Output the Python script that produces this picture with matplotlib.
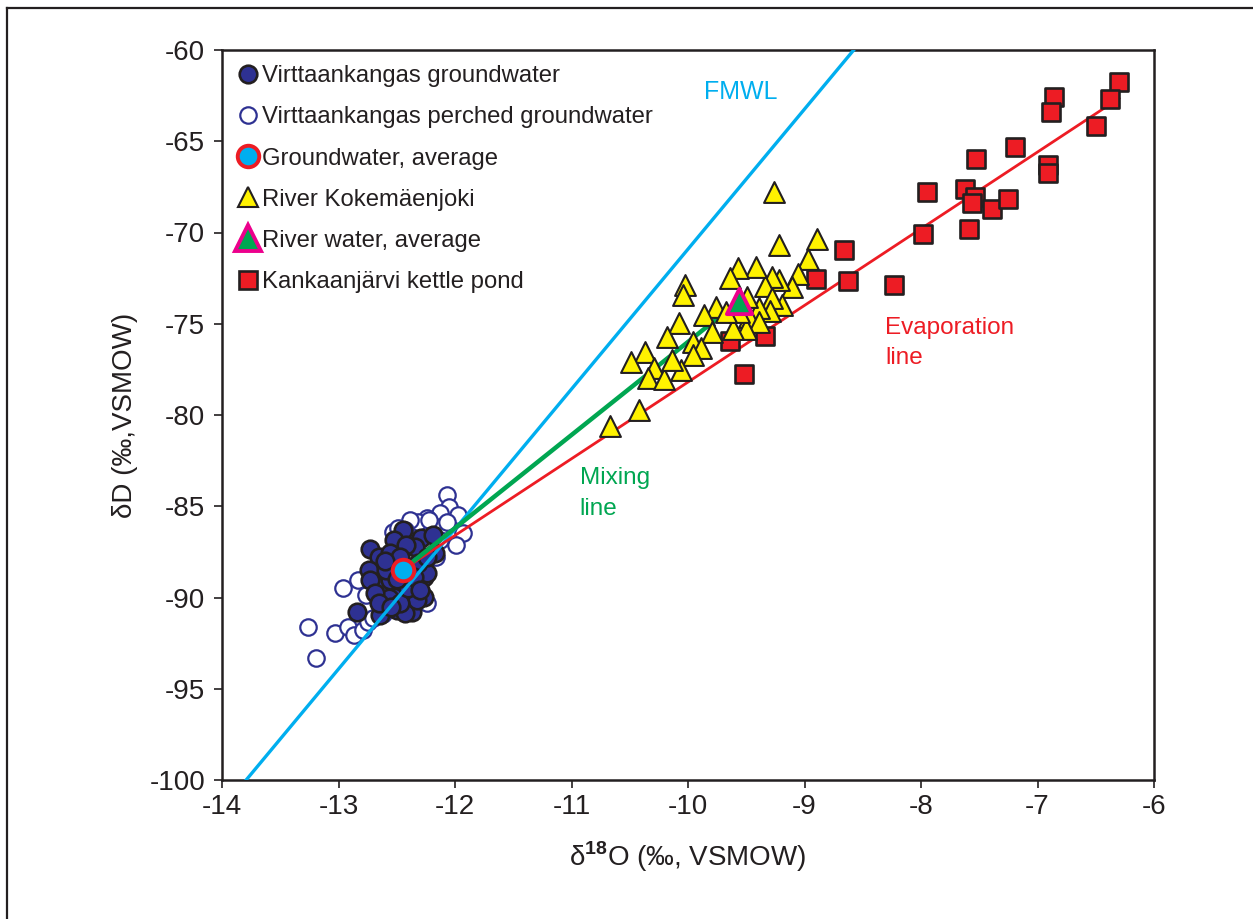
import matplotlib
matplotlib.use("Agg")
import matplotlib.pyplot as plt
import numpy as np
from matplotlib.lines import Line2D

plt.rcParams['font.family'] = ['Liberation Sans', 'DejaVu Sans']
plt.rcParams['mathtext.fontset'] = 'custom'
plt.rcParams['mathtext.rm'] = 'Liberation Sans'
plt.rcParams['mathtext.bf'] = 'Liberation Sans:bold'
plt.rcParams['axes.unicode_minus'] = False

# ---------------- data ----------------
gw_x = [-12.45, -12.73, -12.65, -12.52, -12.29, -12.19, -12.17, -12.74, -12.64, -12.56,
        -12.52, -12.37, -12.27, -12.24, -12.27, -12.57, -12.84, -12.64, -12.50, -12.37,
        -12.43, -12.34, -12.42, -12.56, -12.47, -12.73, -12.69, -12.59, -12.32, -12.24,
        -12.33, -12.47, -12.60, -12.40, -12.50, -12.35, -12.65, -12.30, -12.55]
gw_y = [-86.30, -87.34, -87.80, -86.85, -86.76, -86.58, -87.58, -88.49, -89.41, -89.04,
        -89.96, -89.32, -88.86, -88.67, -89.96, -90.04, -90.78, -90.96, -90.68, -90.78,
        -90.87, -87.22, -87.12, -87.58, -87.76, -89.04, -89.77, -88.49, -88.13, -87.76,
        -90.14, -90.32, -88.00, -89.50, -89.00, -88.90, -90.30, -89.60, -90.50]

perch_x = [-12.07, -12.05, -11.97, -12.13, -12.24, -12.32, -12.39, -11.93, -11.99, -12.96,
           -12.83, -12.76, -13.26, -13.03, -12.92, -12.87, -12.79, -12.75, -13.19, -12.53,
           -12.13, -12.07, -12.13, -12.16, -12.24, -12.22, -12.43, -12.49, -12.62, -12.70]
perch_y = [-84.41, -85.04, -85.48, -85.39, -85.66, -85.85, -85.75, -86.48, -87.12, -89.50,
           -89.04, -89.86, -91.60, -91.96, -91.60, -92.05, -91.78, -91.33, -93.33, -86.39,
           -86.12, -85.85, -86.85, -87.76, -90.32, -85.75, -86.30, -86.21, -90.90, -91.10]

gw_avg = (-12.45, -88.49)

river_x = [-9.26, -9.22, -8.89, -8.97, -9.06, -9.11, -9.19, -9.22, -9.28, -9.34,
           -9.42, -9.57, -9.64, -9.28, -9.30, -9.39, -9.48, -9.39, -9.50, -9.61,
           -9.76, -9.86, -9.79, -10.03, -10.04, -10.08, -10.18, -9.96, -9.89, -9.96,
           -10.37, -10.49, -10.29, -10.34, -10.21, -10.06, -10.14, -10.42, -10.67,
           -9.49, -9.56, -9.67]
river_y = [-67.76, -70.68, -70.37, -71.47, -72.27, -73.00, -73.97, -72.60, -72.42, -72.93,
           -71.87, -71.96, -72.51, -73.61, -74.30, -74.15, -74.61, -74.93, -75.29, -75.29,
           -74.07, -74.52, -75.45, -72.88, -73.42, -74.98, -75.71, -75.98, -76.35, -76.71,
           -76.53, -77.08, -77.44, -77.99, -78.04, -77.53, -76.99, -79.73, -80.60,
           -73.53, -74.36, -74.36]

river_avg = (-9.56, -73.75)

pond_x = [-6.30, -6.38, -6.86, -6.88, -6.50, -7.19, -7.53, -6.91, -6.91, -7.95,
          -7.62, -7.54, -7.56, -7.39, -7.25, -7.98, -7.59, -8.66, -8.63, -8.23,
          -8.90, -9.34, -9.64, -9.52]
pond_y = [-61.74, -62.68, -62.56, -63.40, -64.16, -65.32, -65.97, -66.30, -66.72, -67.76,
          -67.62, -68.05, -68.38, -68.71, -68.16, -70.08, -69.81, -70.96, -72.66, -72.88,
          -72.56, -75.65, -75.93, -77.75]

# FMWL: dD = 7.67 d18O + 5.79
fmwl_slope, fmwl_icpt = 7.67, 5.79
fmwl_x = [-13.8, -8.4]
evap_end = (-6.30, -62.65)

legend_labels = ['Virttaankangas groundwater', 'Virttaankangas perched groundwater',
                 'Groundwater, average', 'River Kokemäenjoki', 'River water, average',
                 'Kankaanjärvi kettle pond']

# ---------------- style ----------------
CYAN = '#00aeef'
RED = '#ed1c24'
GREEN = '#00a651'
YELLOW = '#fff200'
NAVY = '#2e3192'
MAG = '#ec008c'
BLK = '#231f20'

fig = plt.figure(figsize=(12.53, 9.19), dpi=100)
ax = fig.add_axes([222/1253, 1-780/919, (1154-222)/1253, (780-50)/919])

ax.set_xlim(-14, -6)
ax.set_ylim(-100, -60)

S_GW, S_PE, S_SQ, S_TR, S_GA, S_RA = 160, 140, 170, 225, 240, 330

ax.scatter(perch_x, perch_y, s=S_PE, facecolor='white', edgecolor=NAVY,
           linewidth=1.6, zorder=2)
ax.scatter(gw_x, gw_y, s=S_GW, facecolor=NAVY, edgecolor=BLK, linewidth=1.9, zorder=3)

fx = np.array(fmwl_x)
ax.plot(fx, fmwl_slope*fx + fmwl_icpt, color=CYAN, lw=2.4, zorder=4, solid_capstyle='butt')
ax.plot([gw_avg[0], evap_end[0]], [gw_avg[1], evap_end[1]], color=RED, lw=2.0, zorder=4)
ax.plot([gw_avg[0], river_avg[0]], [gw_avg[1], river_avg[1]], color=GREEN, lw=3.2, zorder=4)

ax.scatter(pond_x, pond_y, s=S_SQ, marker='s', facecolor=RED, edgecolor=BLK,
           linewidth=1.9, zorder=5)
ax.scatter(river_x, river_y, s=S_TR, marker='^', facecolor=YELLOW, edgecolor=BLK,
           linewidth=1.5, zorder=6)
ax.scatter([gw_avg[0]], [gw_avg[1]], s=S_GA, facecolor=CYAN, edgecolor=RED,
           linewidth=2.8, zorder=7)
ax.scatter([river_avg[0]], [river_avg[1]], s=S_RA, marker='^', facecolor=GREEN,
           edgecolor=MAG, linewidth=2.8, zorder=7)

ax.text(-9.55, -62.3, 'FMWL', color=CYAN, fontsize=18, ha='center', va='center')
ax.text(-8.31, -76.05, 'Evaporation\nline', color=RED, fontsize=17.5, ha='left',
        va='center', linespacing=1.5)
ax.text(-10.93, -84.3, 'Mixing\nline', color=GREEN, fontsize=17.5, ha='left',
        va='center', linespacing=1.5)

for sp in ax.spines.values():
    sp.set_linewidth(1.8)
    sp.set_color(BLK)
ax.set_xticks(np.arange(-14, -5, 1))
ax.set_yticks(np.arange(-100, -59, 5))
ax.tick_params(direction='out', length=6, width=1.2, color=BLK, labelsize=20,
               labelcolor=BLK)
ax.tick_params(axis='x', pad=4)
ax.tick_params(axis='y', pad=6)

ax.set_xlabel(r'δ$^{\mathbf{18}}$O (‰, VSMOW)', fontsize=20, color=BLK, labelpad=14)
ax.set_ylabel('δD (‰,VSMOW)', fontsize=20, color=BLK)
ax.yaxis.set_label_coords(-0.09, 0.5)

def proxy(marker, s, fc, ec, lw):
    return Line2D([], [], ls='none', marker=marker, markersize=np.sqrt(s),
                  markerfacecolor=fc, markeredgecolor=ec, markeredgewidth=lw)

handles = [proxy('o', S_GW, NAVY, BLK, 1.9),
           proxy('o', S_PE, 'white', NAVY, 1.6),
           proxy('o', S_GA, CYAN, RED, 2.8),
           proxy('^', S_TR, YELLOW, BLK, 1.5),
           proxy('^', S_RA, GREEN, MAG, 2.8),
           proxy('s', S_SQ, RED, BLK, 1.9)]
leg = ax.legend(handles=handles, labels=legend_labels, loc='upper left',
                bbox_to_anchor=(0.015, 0.979), frameon=False, fontsize=17.2,
                handlelength=1.0, handletextpad=0.1, borderaxespad=0, borderpad=0,
                labelspacing=0.8, numpoints=1)
for t in leg.get_texts():
    t.set_color(BLK)

fig.add_artist(Line2D([7/1253, 7/1253], [0, 1-8/919], transform=fig.transFigure,
                      color=BLK, lw=1.6))
fig.add_artist(Line2D([7/1253, 1], [1-8/919, 1-8/919], transform=fig.transFigure,
                      color=BLK, lw=1.6))

fig.savefig('out.png', dpi=100)
